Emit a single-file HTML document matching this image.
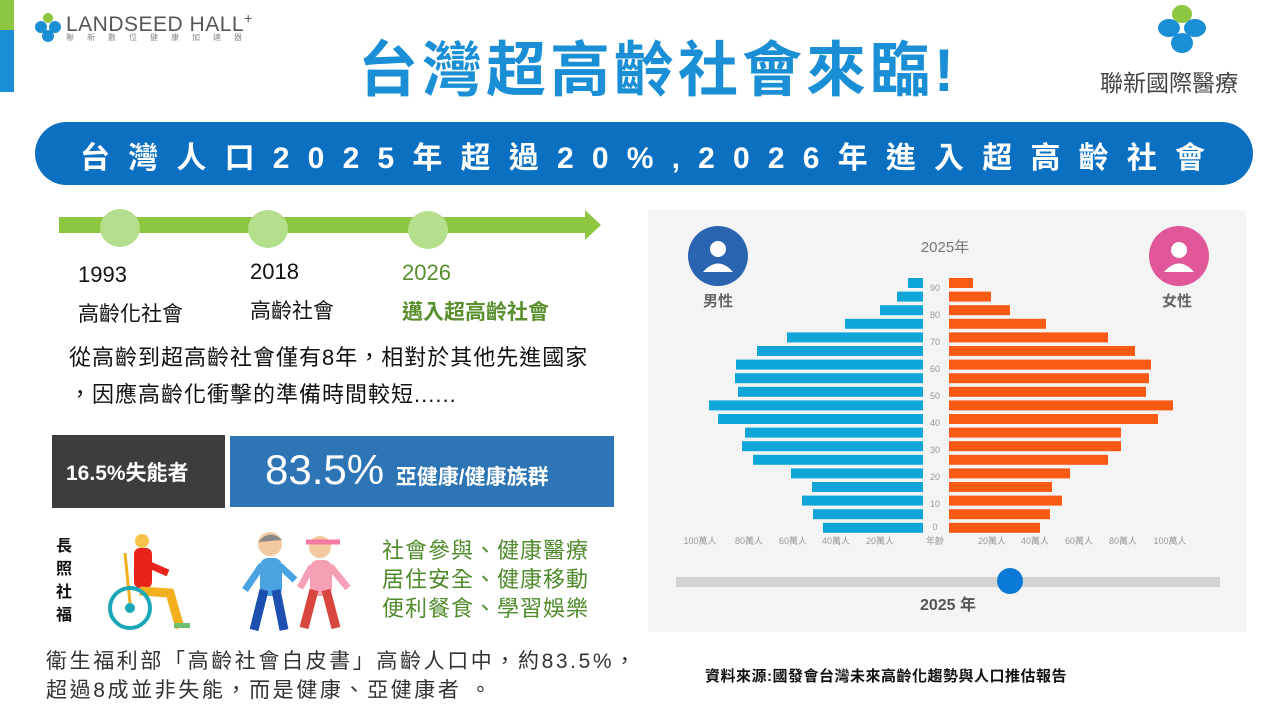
<!DOCTYPE html>
<html><head><meta charset="utf-8">
<style>
body{margin:0;width:1280px;height:720px;background:#fff;overflow:hidden;position:relative;font-family:"Liberation Sans","Noto Sans CJK TC",sans-serif}
.a{position:absolute;white-space:nowrap}
</style></head><body>
<div class="a" style="left:0;top:0;width:14px;height:30px;background:#8dc63f"></div>
<div class="a" style="left:0;top:30px;width:14px;height:62px;background:#1a8fd6"></div>
<svg class="a" style="left:34px;top:12px" width="30" height="30"><circle cx="14" cy="6" r="5" fill="#8dc63f"/><circle cx="7" cy="15" r="6" fill="#1a8fd6"/><circle cx="21" cy="15" r="6" fill="#1a8fd6"/><circle cx="14" cy="24" r="6" fill="#1a8fd6"/></svg>
<div class="a" style="left:66px;top:10px;font-size:21px;color:#555;letter-spacing:0.5px">LANDSEED HALL<sup style="font-size:14px">+</sup></div>
<div class="a" style="left:66px;top:32px;font-size:8px;color:#888;letter-spacing:13px">聯新數位健康加速器</div>
<div class="a" style="left:358px;top:22px;font-size:60px;font-weight:bold;color:#1a8fd6;letter-spacing:4px">台灣超高齡社會來臨!</div>
<svg class="a" style="left:1155px;top:3px" width="55" height="52"><ellipse cx="27" cy="11" rx="10" ry="9" fill="#8dc63f"/><ellipse cx="14" cy="25" rx="11" ry="9" fill="#1a8fd6"/><ellipse cx="40" cy="25" rx="11" ry="9" fill="#1a8fd6"/><ellipse cx="27" cy="40" rx="11" ry="10" fill="#1a8fd6"/></svg>
<div class="a" style="left:1100px;top:64px;font-size:23px;color:#444">聯新國際醫療</div>
<div class="a" style="left:35px;top:122px;width:1218px;height:63px;border-radius:32px;background:#0b6fc2"></div>
<div class="a" style="left:80px;top:133px;font-size:30px;font-weight:bold;color:#fff;letter-spacing:18.2px">台灣人口2025年超過20%,2026年進入超高齡社會</div>
<svg class="a" style="left:0;top:200px" width="640" height="60">
<rect x="59" y="17" width="530" height="16" fill="#8dc63f"/>
<polygon points="585,10 601,25 585,40" fill="#8dc63f"/>
<ellipse cx="120" cy="28" rx="20" ry="19" fill="#b5df8c"/>
<ellipse cx="268" cy="29" rx="20" ry="19" fill="#b5df8c"/>
<ellipse cx="428" cy="30" rx="20" ry="19" fill="#b5df8c"/>
</svg>
<div class="a" style="left:78px;top:262px;font-size:22px;color:#111">1993</div>
<div class="a" style="left:78px;top:298px;font-size:21px;color:#111">高齡化社會</div>
<div class="a" style="left:250px;top:259px;font-size:22px;color:#111">2018</div>
<div class="a" style="left:250px;top:295px;font-size:21px;color:#111">高齡社會</div>
<div class="a" style="left:402px;top:260px;font-size:22px;color:#5a8f2e">2026</div>
<div class="a" style="left:402px;top:296px;font-size:21px;font-weight:bold;color:#5a8f2e">邁入超高齡社會</div>
<div class="a" style="left:69px;top:340px;font-size:22px;color:#111;letter-spacing:1px">從高齡到超高齡社會僅有8年，相對於其他先進國家</div>
<div class="a" style="left:69px;top:377px;font-size:22px;color:#111;letter-spacing:1px">，因應高齡化衝擊的準備時間較短......</div>
<div class="a" style="left:52px;top:435px;width:173px;height:73px;background:#3d3d3d"></div>
<div class="a" style="left:66px;top:457px;font-size:21px;font-weight:bold;color:#fff">16.5%失能者</div>
<div class="a" style="left:230px;top:436px;width:384px;height:71px;background:#2e75b6"></div>
<div class="a" style="left:265px;top:446px;font-size:42px;color:#fff">83.5% <span style="font-size:21px;font-weight:bold">亞健康/健康族群</span></div>
<div class="a" style="left:56px;top:535px;font-size:16px;font-weight:bold;color:#111;line-height:23px;width:18px;white-space:normal">長照社福</div>
<svg class="a" style="left:100px;top:533px" width="95" height="100">
<circle cx="42" cy="8" r="7" fill="#f7c34a"/><rect x="34" y="15" width="18" height="40" rx="6" fill="#e8231c"/>
<path d="M45 30 L68 40" stroke="#e8231c" stroke-width="7"/>
<path d="M40 58 L70 60 L80 95" stroke="#f2b01e" stroke-width="9" fill="none"/>
<path d="M25 20 L30 70" stroke="#f2b01e" stroke-width="3"/>
<circle cx="30" cy="75" r="20" fill="none" stroke="#1aa8b8" stroke-width="4"/><circle cx="30" cy="75" r="5" fill="#1aa8b8"/>
<rect x="74" y="90" width="16" height="5" fill="#6fbf73"/>
</svg>
<svg class="a" style="left:240px;top:530px" width="120" height="110">
<circle cx="30" cy="14" r="12" fill="#f3c9a0"/><path d="M18 12 Q30 -2 42 10" fill="#888"/>
<rect x="20" y="28" width="22" height="38" rx="8" fill="#4aa3e0"/>
<path d="M24 60 L14 100 M36 60 L44 100" stroke="#1c4fb0" stroke-width="9"/>
<path d="M22 35 L5 60 M40 36 L55 50" stroke="#4aa3e0" stroke-width="7"/>
<circle cx="80" cy="17" r="11" fill="#f3c9a0"/><path d="M66 12 L100 12" stroke="#f47ba0" stroke-width="5"/>
<rect x="70" y="30" width="22" height="36" rx="8" fill="#f5a0b5"/>
<path d="M74 60 L64 98 M86 60 L96 98" stroke="#d9463d" stroke-width="9"/>
<path d="M72 36 L60 58 M90 36 L108 58" stroke="#f5a0b5" stroke-width="7"/>
</svg>
<div class="a" style="left:382px;top:536px;font-size:22px;color:#4f8a2b;line-height:29px;letter-spacing:1px">社會參與、健康醫療<br>居住安全、健康移動<br>便利餐食、學習娛樂</div>
<div class="a" style="left:46px;top:647px;font-size:21px;color:#333;line-height:29px;letter-spacing:2.6px">衛生福利部「高齡社會白皮書」高齡人口中，約83.5%，<br>超過8成並非失能，而是健康、亞健康者 。</div>
<div class="a" style="left:705px;top:665px;font-size:15px;font-weight:bold;color:#111;letter-spacing:0.5px">資料來源:國發會台灣未來高齡化趨勢與人口推估報告</div>
<svg class="a" style="left:0;top:0" width="1280" height="720">
<rect x="648" y="210" width="598" height="422" fill="#f4f4f4"/>
<circle cx="718" cy="256" r="30" fill="#2a63b0"/><circle cx="718" cy="249" r="8" fill="#fff"/><path d="M703 272 Q718 255 733 272 Z" fill="#fff"/>
<circle cx="1179" cy="256" r="30" fill="#e0579a"/><circle cx="1179" cy="250" r="8" fill="#fff"/><path d="M1164 272 Q1179 255 1194 272 Z" fill="#fff"/>
<text x="945" y="252" font-size="15" fill="#777" text-anchor="middle" font-family="Liberation Sans,Noto Sans CJK TC,sans-serif">2025年</text>
<text x="718" y="306" font-size="15" font-weight="bold" fill="#666" text-anchor="middle" font-family="Noto Sans CJK TC,sans-serif">男性</text>
<text x="1177" y="306" font-size="15" font-weight="bold" fill="#666" text-anchor="middle" font-family="Noto Sans CJK TC,sans-serif">女性</text>
<g fill="#0ea5d8">
<rect x="908" y="278" width="15" height="10"/><rect x="897" y="291.6" width="26" height="10"/><rect x="880" y="305.2" width="43" height="10"/><rect x="845" y="318.8" width="78" height="10"/><rect x="787" y="332.4" width="136" height="10"/><rect x="757" y="346" width="166" height="10"/><rect x="736" y="359.6" width="187" height="10"/><rect x="735" y="373.2" width="188" height="10"/><rect x="738" y="386.8" width="185" height="10"/><rect x="709" y="400.4" width="214" height="10"/><rect x="718" y="414" width="205" height="10"/><rect x="745" y="427.6" width="178" height="10"/><rect x="742" y="441.2" width="181" height="10"/><rect x="753" y="454.8" width="170" height="10"/><rect x="791" y="468.4" width="132" height="10"/><rect x="812" y="482" width="111" height="10"/><rect x="802" y="495.6" width="121" height="10"/><rect x="813" y="509.2" width="110" height="10"/><rect x="823" y="522.8" width="100" height="10"/>
</g>
<g fill="#fb5a14">
<rect x="949" y="278" width="24" height="10"/><rect x="949" y="291.6" width="42" height="10"/><rect x="949" y="305.2" width="61" height="10"/><rect x="949" y="318.8" width="97" height="10"/><rect x="949" y="332.4" width="159" height="10"/><rect x="949" y="346" width="186" height="10"/><rect x="949" y="359.6" width="202" height="10"/><rect x="949" y="373.2" width="200" height="10"/><rect x="949" y="386.8" width="197" height="10"/><rect x="949" y="400.4" width="224" height="10"/><rect x="949" y="414" width="209" height="10"/><rect x="949" y="427.6" width="172" height="10"/><rect x="949" y="441.2" width="172" height="10"/><rect x="949" y="454.8" width="159" height="10"/><rect x="949" y="468.4" width="121" height="10"/><rect x="949" y="482" width="103" height="10"/><rect x="949" y="495.6" width="113" height="10"/><rect x="949" y="509.2" width="101" height="10"/><rect x="949" y="522.8" width="91" height="10"/>
</g>
<g font-size="9" fill="#999" text-anchor="middle" font-family="Liberation Sans,Noto Sans CJK TC,sans-serif">
<text x="935" y="291">90</text><text x="935" y="318">80</text><text x="935" y="345">70</text><text x="935" y="372">60</text><text x="935" y="399">50</text><text x="935" y="426">40</text><text x="935" y="453">30</text><text x="935" y="480">20</text><text x="935" y="507">10</text><text x="935" y="530">0</text>
<text x="700" y="544">100萬人</text><text x="749" y="544">80萬人</text><text x="793" y="544">60萬人</text><text x="836" y="544">40萬人</text><text x="880" y="544">20萬人</text><text x="935" y="544">年齡</text>
<text x="992" y="544">20萬人</text><text x="1035" y="544">40萬人</text><text x="1079" y="544">60萬人</text><text x="1123" y="544">80萬人</text><text x="1170" y="544">100萬人</text>
</g>
<rect x="676" y="577" width="544" height="10" fill="#d3d3d3"/>
<circle cx="1010" cy="581" r="13" fill="#0b7ad6"/>
<text x="948" y="610" font-size="16" font-weight="bold" fill="#555" text-anchor="middle" font-family="Liberation Sans,Noto Sans CJK TC,sans-serif">2025 年</text>
</svg>
</body></html>
